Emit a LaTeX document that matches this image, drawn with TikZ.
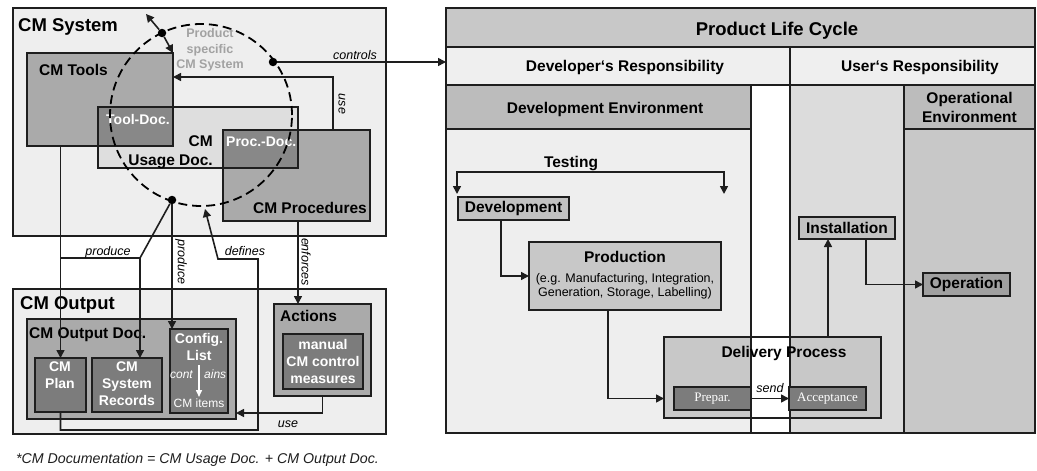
\documentclass[tikz,border=0pt]{standalone}
\usepackage{fontspec}
\setmainfont{Liberation Sans}
\newfontfamily\timesf{Liberation Serif}
\usetikzlibrary{arrows.meta}

\definecolor{lineC}{HTML}{1E1E1E}
\definecolor{bgL}{HTML}{EEEEEE}
\definecolor{bgR}{HTML}{EFEFEF}
\definecolor{grU}{HTML}{DEDEDE}
\definecolor{grV}{HTML}{DCDCDC}
\definecolor{grC}{HTML}{C8C8C8}
\definecolor{grK}{HTML}{C2C2C2}
\definecolor{grH}{HTML}{BCBCBC}
\definecolor{grM}{HTML}{AAAAAA}
\definecolor{grO}{HTML}{A0A0A0}
\definecolor{grD}{HTML}{888888}
\definecolor{grE}{HTML}{7C7C7C}
\definecolor{grT}{HTML}{A2A2A2}

\tikzset{
  box/.style={draw=lineC, line width=1.3pt, inner sep=0pt, outer sep=0pt, anchor=north west},
  ttl/.style={font=\fontsize{18.5}{21}\selectfont\bfseries, inner sep=0pt},
  lbl/.style={font=\fontsize{15.5}{19}\selectfont\bfseries, inner sep=0pt},
  wlbl/.style={font=\fontsize{14}{17}\selectfont\bfseries, text=white, align=center, inner sep=0pt},
  itl/.style={font=\fontsize{12.5}{14}\selectfont\itshape, inner sep=1.5pt},
  con/.style={line width=1.6pt, draw=lineC},
  arr/.style={con, -{Triangle[length=8pt,width=8pt]}},
  arrs/.style={con, {Triangle[length=8pt,width=8pt]}-{Triangle[length=8pt,width=8pt]}},
  dot/.style={circle, fill=black, inner sep=0pt, minimum size=8.5pt},
}

\begin{document}
\begin{tikzpicture}[x=1pt,y=-1pt]
  \useasboundingbox (0,0) rectangle (1037,471);
  % CM system frame:
  \node[box, fill=bgL, minimum width=373, minimum height=228] (sys) at (13,8) {};
  \node[ttl, anchor=base west] (sysT) at (18,31) {CM System};
  % tools, usage doc. and procedures:
  \node[box, fill=grM, minimum width=146, minimum height=93] (tools) at (27,53) {};
  \node[box, fill=grU, minimum width=200, minimum height=61] (usage) at (98,107) {};
  \node[box, fill=grM, minimum width=147, minimum height=91] (proc) at (223,130) {};
  \fill[grD] (usage.north west) rectangle (tools.south east);
  \fill[grD] (proc.north west) rectangle (usage.south east);
  \foreach \b in {tools,usage,proc}
    \draw[lineC, line width=1.3pt] (\b.north west) rectangle (\b.south east);
  \node[lbl, anchor=base west] (toolsT) at (39,75) {CM Tools};
  \node[wlbl, anchor=base west] (tdocT) at (106,124) {Tool-Doc.};
  \node[lbl, align=right, anchor=north east] (usageT) at (213,135) {CM\\Usage Doc.};
  \node[wlbl, anchor=base west] (pdocT) at (226,146) {Proc.-Doc.};
  \node[lbl, anchor=base east] (procT) at (367,213) {CM Procedures};
  % product specific CM system:
  \coordinate (cc) at (201,115);
  \draw[line width=1.8pt, dash pattern=on 9pt off 5pt] (cc) circle [radius=91pt];
  \node[font=\fontsize{12.5}{15.5}\selectfont\bfseries, text=grT, align=center, inner sep=0pt] (pssT) at (210,50) {Product\\specific\\CM System};
  \node[dot] (dTop) at (162,33) {};
  \node[dot] (dCtl) at (273,62) {};
  \node[dot] (dBot) at (172,200) {};
  \coordinate (tipTL) at (146,14);
  \draw[arr] (dTop) -- (tipTL);
  \draw[arr] (dTop) -- (tools.north east);
  % use:
  \coordinate (useT) at (333,77);
  \draw[arr] (proc.north -| useT) -- (useT) -- (useT -| tools.east);
  \node[itl, rotate=-90] (useTl) at (342,104) {use};

  % CM output frame:
  \node[box, fill=bgL, minimum width=373, minimum height=145] (out) at (13,289) {};
  \node[ttl, anchor=base west] (outT) at (20,309) {CM Output};
  \node[box, fill=grM, minimum width=209, minimum height=100] (odoc) at (27,319) {};
  \node[lbl, anchor=base west] (odocT) at (29,338) {CM Output Doc.};
  \node[box, fill=grE, minimum width=51, minimum height=54] (plan) at (35,358) {};
  \node[box, fill=grE, minimum width=70, minimum height=54] (srec) at (92,358) {};
  \node[box, fill=grE, minimum width=58, minimum height=84] (cfg) at (170,329) {};
  \node[wlbl, anchor=north] (planT) at (60,362) {CM\\Plan};
  \node[wlbl, anchor=north] (srecT) at (127,362) {CM\\System\\Records};
  \node[wlbl, anchor=north] (cfgT) at (199,333) {Config.\\List};
  \coordinate (cfgA) at (199,365);
  \coordinate (cfgB) at (199,397);
  \draw[white, line width=1.5pt, -{Triangle[length=7pt,width=6pt]}] (cfgA) -- (cfgB);
  \node[font=\fontsize{12}{14}\selectfont\itshape, text=white, inner sep=0pt, anchor=base east] (cfgC) at (193,378) {cont};
  \node[font=\fontsize{12}{14}\selectfont\itshape, text=white, inner sep=0pt, anchor=base west] (cfgD) at (204,378) {ains};
  \node[font=\fontsize{12}{14}\selectfont, text=white, inner sep=0pt, anchor=base] (cfgI) at (199,407) {CM items};
  % actions:
  \node[box, fill=grM, minimum width=97, minimum height=92] (act) at (274,304) {};
  \node[lbl, anchor=base west] (actT) at (280,321) {Actions};
  \node[box, fill=grE, minimum width=80, minimum height=55] (man) at (283,334) {};
  \node[wlbl, anchor=north] (manT) at (323,339) {manual\\CM control\\measures};

  % produce, defines, enforces, use:
  \coordinate (prodJ) at (140,258);
  \draw[arr] (dBot) -- (prodJ) -- (prodJ |- srec.north);
  \draw[con] (prodJ) -- (prodJ -| plan.north);
  \draw[arr] (plan.north |- tools.south) -- (plan.north);
  \node[itl, anchor=base] (prodL) at (108,255) {produce};
  \draw[arr] (dBot) -- (dBot |- cfg.north);
  \node[itl, rotate=-90] (prodL2) at (181,262) {produce};
  \coordinate (defC) at (258,430);
  \coordinate (defD) at (218,259);
  \coordinate (defTip) at (205,209);
  \draw[arr] (plan.south) |- (defC) |- (defD) -- (defTip);
  \node[itl, anchor=base] (defL) at (245,255) {defines};
  \coordinate (enfE) at ([xshift=-24.5pt]act.north);
  \draw[arr] (enfE |- proc.south) -- (enfE);
  \node[itl, rotate=-90] (enfL) at (306,262) {enforces};
  \draw[arr] (act.south) |- (cfg.south -| odoc.east);
  \node[itl, anchor=base] (useB) at (288,427) {use};

  % footnote:
  \node[font=\fontsize{14.2}{16}\selectfont\itshape, text=lineC, inner sep=0pt, anchor=base west] (note) at (16,463) {*CM Documentation = CM Usage Doc. + CM Output Doc.};

  % product life cycle:
  \node[box, fill=bgL, minimum width=589, minimum height=425] (plc) at (446,8) {};
  \node[box, fill=grC, minimum width=589, minimum height=39] (plcH) at (446,8) {};
  \node[ttl, anchor=base] (plcT) at (777,35) {Product Life Cycle};
  \node[box, fill=bgR, minimum width=344, minimum height=38] (devR) at (446,47) {};
  \node[box, fill=bgR, minimum width=245, minimum height=38] (usrR) at (790,47) {};
  \node[lbl, anchor=base] (devRT) at (625,71) {Developer‘s Responsibility};
  \node[lbl, anchor=base] (usrRT) at (920,71) {User‘s Responsibility};
  % environments:
  \node[box, fill=grH, minimum width=305, minimum height=44] (devH) at (446,85) {};
  \node[lbl, anchor=base] (devHT) at (605,113) {Development Environment};
  \node[box, fill=bgL, minimum width=305, minimum height=304] (devB) at (446,129) {};
  \node[box, fill=white, minimum width=39, minimum height=348] (gap) at (751,85) {};
  \node[box, fill=grV, minimum width=114, minimum height=348] (usrB) at (790,85) {};
  \node[box, fill=grH, minimum width=131, minimum height=44, lbl, align=center] (opH) at (904,85) {Operational\\Environment};
  \node[box, fill=grC, minimum width=131, minimum height=304] (opB) at (904,129) {};

  % testing:
  \node[lbl, anchor=base] (tstT) at (571,167) {Testing};
  \coordinate (tstA) at (457,194);
  \coordinate (tstB) at (724,194);
  \draw[arrs] (tstA) -- ++(0,-22) -| (tstB);
  % process steps:
  \node[box, fill=grK, minimum width=111, minimum height=23, lbl] (dev) at (458,197) {Development};
  \node[box, fill=grC, minimum width=192, minimum height=68] (prod) at (529,242) {};
  \node[lbl, anchor=base] (prodT) at (625,262) {Production};
  \node[font=\fontsize{12.5}{14.5}\selectfont, align=center, inner sep=0pt, anchor=north] (prodS) at (625,273) {(e.g. Manufacturing, Integration,\\Generation, Storage, Labelling)};
  \node[box, draw=none, fill=grC, minimum width=217, minimum height=81] (deliv) at (664,337) {};
  \fill[white] (gap.west |- deliv.north) rectangle (gap.east |- deliv.south);
  \draw[lineC, line width=1.3pt] (deliv.north west) rectangle (deliv.south east);
  \draw[lineC, line width=1.3pt] (gap.north west) -- (gap.south west);
  \draw[lineC, line width=1.3pt] (gap.north east) -- (gap.south east);
  \node[lbl, anchor=base] (delivT) at (784,357) {Delivery Process};
  \node[box, fill=grE, minimum width=77, minimum height=23, text=white, font=\timesf\fontsize{13}{15}\selectfont] (prep) at (674,387) {Prepar.};
  \node[box, fill=grE, minimum width=77, minimum height=23, text=white, font=\timesf\fontsize{13}{15}\selectfont] (acc) at (789,387) {Acceptance};
  \node[box, fill=grK, minimum width=96, minimum height=22, lbl] (inst) at (799,217) {Installation};
  \node[box, fill=grO, minimum width=87, minimum height=23, lbl] (oper) at (923,273) {Operation};
  % flow:
  \draw[arr] ([xshift=-12.5pt]dev.south) |- (prod.west);
  \draw[arr] ([xshift=-17pt]prod.south) |- (deliv.west |- prep.west);
  \draw[arr] (prep) -- (acc) node[itl, midway, above=4pt] (sendL) {send};
  \coordinate (instL) at ([xshift=-19pt]inst.south);
  \draw[arr] (deliv.north -| instL) -- (instL);
  \draw[arr] ([xshift=19pt]inst.south) |- (oper.west);

  % controls:
  \draw[arr] (dCtl) -- (dCtl -| plc.west) node[itl, pos=0.46, above] (ctlL) {controls};
\end{tikzpicture}
\end{document}
